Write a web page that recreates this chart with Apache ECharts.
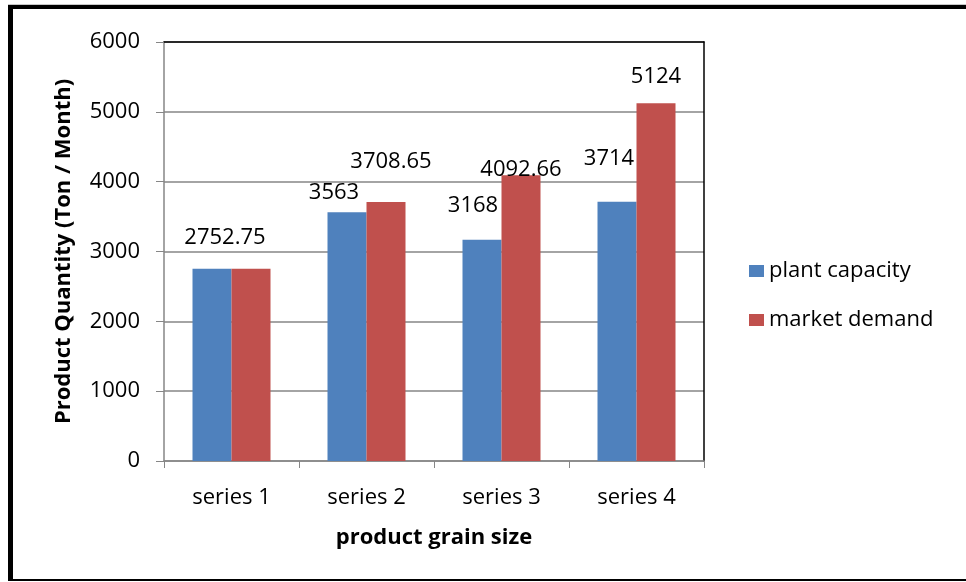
<!DOCTYPE html>
<html>
<head>
<meta charset="utf-8">
<script src="https://cdn.jsdelivr.net/npm/echarts@6/dist/echarts.min.js"></script>
<style>
  html, body { margin: 0; padding: 0; background: #fff; }
  #chart { width: 966px; height: 582px; }
</style>
</head>
<body>
<div id="chart"></div>
<script>
// Product grain size categories
const categories = ['series 1', 'series 2', 'series 3', 'series 4'];
// Monthly quantities (Ton / Month)
const plantCapacity = [2752.75, 3563, 3168, 3714];
const marketDemand = [2752.75, 3708.65, 4092.66, 5124];
// Value-axis ticks
const yTicks = [0, 1000, 2000, 3000, 4000, 5000, 6000];

// Hand-placed label offsets [dx, dy] relative to the bar top
const capacityLabelOffsets = [[13, -20], [-13, -8], [-9, -23], [-8, -32]];
const demandLabelOffsets = [[0, 0], [5, -29], [0, 6], [0, -15]];
const demandLabelShown = [false, true, true, true];

const FONT = '"Open Sans", "Noto Sans", sans-serif';
const BLUE = '#4F81BD';
const RED = '#C0504D';

function buildData(values, offsets, shown) {
  return values.map((v, i) => ({
    value: v,
    label: {
      show: shown ? shown[i] : true,
      offset: offsets[i]
    }
  }));
}

const chart = echarts.init(document.getElementById('chart'), null, { renderer: 'canvas' });

chart.setOption({
  animation: false,
  textStyle: { fontFamily: FONT, color: '#000' },
  grid: { left: 164, top: 42, right: 262, bottom: 121, containLabel: false },
  legend: {
    orient: 'vertical',
    left: 749,
    top: 260,
    padding: 0,
    itemWidth: 15,
    itemHeight: 12,
    itemGap: 27,
    icon: 'rect',
    textStyle: { fontFamily: FONT, fontSize: 22, color: '#000' },
    data: ['plant capacity', 'market demand']
  },
  xAxis: [
    {
      type: 'category',
      data: categories,
      name: 'product grain size',
      nameLocation: 'middle',
      nameGap: 66,
      nameTextStyle: { fontFamily: FONT, fontSize: 22, fontWeight: 'bold', color: '#000' },
      axisLine: { onZero: false, lineStyle: { color: '#868686', width: 1.5 } },
      axisTick: { show: true, length: 7, lineStyle: { color: '#868686' } },
      axisLabel: { fontFamily: FONT, fontSize: 22, color: '#000', margin: 26 }
    },
    {
      type: 'category',
      data: categories,
      position: 'top',
      axisLine: { onZero: false, lineStyle: { color: '#000', width: 1.5 } },
      axisTick: { show: false },
      axisLabel: { show: false }
    }
  ],
  yAxis: [
    {
      type: 'value',
      min: yTicks[0],
      max: yTicks[yTicks.length - 1],
      interval: 1000,
      name: 'Product Quantity (Ton / Month)',
      nameLocation: 'middle',
      nameGap: 89,
      nameRotate: 90,
      nameTextStyle: { fontFamily: FONT, fontSize: 22, fontWeight: 'bold', color: '#000' },
      axisLine: { show: true, onZero: false, lineStyle: { color: '#868686', width: 1.5 } },
      axisTick: { show: true, length: 8, lineStyle: { color: '#868686' } },
      axisLabel: { fontFamily: FONT, fontSize: 22, color: '#000', margin: 24, formatter: v => String(v) },
      splitLine: { show: true, lineStyle: { color: '#868686', width: 1.5 } }
    },
    {
      type: 'value',
      min: yTicks[0],
      max: yTicks[yTicks.length - 1],
      interval: 1000,
      position: 'right',
      axisLine: { show: true, onZero: false, lineStyle: { color: '#000', width: 1.5 } },
      axisTick: { show: false },
      axisLabel: { show: false },
      splitLine: { show: false }
    }
  ],
  series: [
    {
      name: 'plant capacity',
      type: 'bar',
      data: buildData(plantCapacity, capacityLabelOffsets),
      itemStyle: { color: BLUE },
      barWidth: 39,
      barGap: '0%',
      label: { show: true, position: 'top', distance: 0, fontFamily: FONT, fontSize: 22, color: '#000' }
    },
    {
      name: 'market demand',
      type: 'bar',
      data: buildData(marketDemand, demandLabelOffsets, demandLabelShown),
      itemStyle: { color: RED },
      barWidth: 39,
      barGap: '0%',
      label: { show: true, position: 'top', distance: 0, fontFamily: FONT, fontSize: 22, color: '#000' }
    }
  ],
  graphic: [
    // outer chart frame
    { type: 'rect', shape: { x: 8, y: 5, width: 966, height: 4 }, style: { fill: '#000' }, silent: true },
    { type: 'rect', shape: { x: 8, y: 5, width: 5, height: 576 }, style: { fill: '#000' }, silent: true },
    { type: 'rect', shape: { x: 8, y: 579, width: 966, height: 2 }, style: { fill: '#000' }, silent: true },
    { type: 'rect', shape: { x: 8, y: 4, width: 966, height: 1 }, style: { fill: '#c8c8c8' }, silent: true }
  ]
});
</script>
</body>
</html>
